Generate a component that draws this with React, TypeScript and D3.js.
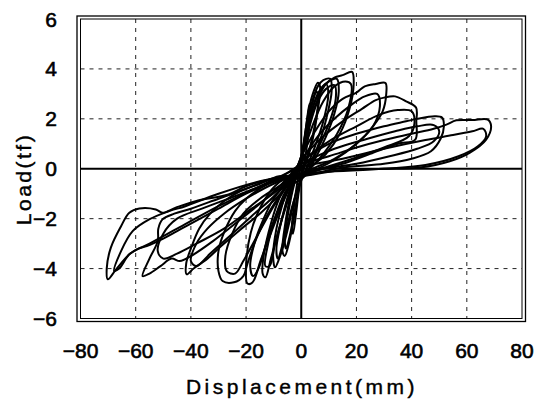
import React from "react";
import * as d3 from "d3";

type Pt = [number, number];

// tick values
const xTicks = [-80, -60, -40, -20, 0, 20, 40, 60, 80];
const yTicks = [-6, -4, -2, 0, 2, 4, 6];

// hysteresis cycles, [displacement mm, load tf]
const cycle1: Pt[] = [[0, 0.1], [1, 1.0], [2, 1.9], [3, 2.6], [3.4, 2.3], [2.4, 1.2], [1, 0.2], [0, -0.3], [-1, -1.0], [-2, -1.9], [-3, -2.6], [-3.4, -2.4], [-2.4, -1.3], [-1, -0.3], [0, 0.1]];
const cycle2: Pt[] = [[0, 0.3], [1.5, 1.5], [3, 2.5], [4.5, 3.1], [6, 3.45], [6.8, 3.3], [5.8, 2.2], [4, 1.1], [2, 0.3], [0, -0.3], [-1.5, -1.2], [-3, -2.2], [-4.5, -3.0], [-6, -3.5], [-6.8, -3.3], [-5.8, -2.2], [-4, -1.1], [-2, -0.2], [0, 0.3]];
const cycle2b: Pt[] = [[0, 0.2], [2, 1.6], [4, 2.6], [5.5, 3.1], [6.2, 2.8], [5, 1.8], [3, 0.8], [0, -0.2], [-2, -1.5], [-4, -2.6], [-5.5, -3.2], [-6, -2.8], [-4.6, -1.7], [-2.5, -0.6], [0, 0.2]];
const cycle3: Pt[] = [[0, 0.4], [2, 1.7], [4, 2.7], [6, 3.3], [8, 3.55], [10.5, 3.6], [11, 3.1], [9.5, 2.2], [7, 1.2], [4, 0.4], [0, -0.4], [-2, -1.0], [-4, -2.0], [-6, -2.9], [-8, -3.6], [-9.5, -3.95], [-10.2, -3.5], [-9, -2.4], [-6.5, -1.3], [-3.5, -0.4], [0, 0.4]];
const cycle3b: Pt[] = [[0, 0.3], [3, 2.0], [6, 3.0], [9, 3.4], [9.8, 3.0], [8, 1.9], [5, 0.9], [1, -0.2], [-3, -1.4], [-6, -2.7], [-8.5, -3.6], [-9, -3.2], [-7, -2.0], [-4, -0.8], [0, 0.3]];
const cycle4: Pt[] = [[0, 0.5], [2.5, 1.7], [5, 2.7], [7.5, 3.25], [10, 3.5], [12.9, 3.6], [13.6, 3.1], [12, 2.2], [9, 1.3], [5, 0.4], [1, -0.3], [-4, -0.4], [-8, -1.2], [-11, -2.2], [-13.5, -3.4], [-14, -4.2], [-13, -4.35], [-11, -3.6], [-8.5, -2.6], [-5.5, -1.5], [-2.5, -0.5], [0, 0.5]];
const cycle4b: Pt[] = [[0, 0.4], [3, 1.7], [6, 2.7], [9, 3.2], [12, 3.35], [12.5, 2.8], [10, 1.8], [6, 0.8], [1, -0.3], [-5, -0.8], [-9, -1.8], [-12, -3.0], [-13, -3.9], [-11.5, -3.9], [-9.5, -3.0], [-6.5, -1.8], [-3, -0.6], [0, 0.4]];
const cycle5: Pt[] = [[0, 0.5], [3, 1.8], [6, 2.8], [9, 3.4], [12, 3.65], [15, 3.75], [18.4, 3.88], [19, 3.4], [17.5, 2.4], [14, 1.4], [9, 0.6], [4, 0.1], [0, -0.4], [-4, -0.3], [-9.6, -0.7], [-14.6, -1.5], [-18.3, -2.56], [-20, -3.9], [-19.5, -4.6], [-17.7, -4.56], [-14.6, -3.63], [-10.9, -2.56], [-7.2, -1.5], [-3.5, -0.56], [0, 0.5]];
const cycle5b: Pt[] = [[0, 0.4], [4, 1.7], [8, 2.7], [12, 3.3], [16, 3.5], [18, 3.4], [17, 2.4], [13, 1.4], [8, 0.6], [3, 0.0], [0, -0.3], [-5, -0.6], [-10, -1.2], [-14, -2.1], [-17, -3.0], [-18.5, -3.9], [-17.5, -4.3], [-15.5, -4.0], [-13, -3.1], [-10, -2.1], [-6, -1.1], [-2, -0.2], [0, 0.4]];
const cycle6: Pt[] = [[0, 0.5], [5, 1.5], [10, 2.3], [15, 2.8], [20, 3.05], [23, 3.3], [27, 3.4], [30.5, 3.44], [30.8, 3.0], [29.5, 2.3], [26, 1.7], [20, 1.0], [12, 0.35], [5, -0.05], [0, -0.3], [-8, -0.4], [-15, -0.8], [-20, -1.2], [-24, -1.7], [-28, -2.56], [-30, -3.3], [-30, -4.1], [-28.5, -4.5], [-24.4, -4.55], [-21, -4.3], [-19.5, -3.8], [-17, -3.0], [-13, -2.0], [-8, -1.1], [-3, -0.3], [0, 0.5]];
const cycle6b: Pt[] = [[0, 0.3], [6, 1.3], [12, 2.0], [18, 2.55], [23, 2.9], [27.5, 3.0], [28.5, 2.5], [26, 1.7], [20, 1.0], [12, 0.4], [4, 0], [0, -0.2], [-8, -0.7], [-15, -1.2], [-21, -1.8], [-25, -2.6], [-27.5, -3.5], [-27, -4.1], [-24, -4.2], [-21, -3.7], [-16, -2.7], [-10, -1.5], [-4, -0.5], [0, 0.3]];
const cycle7: Pt[] = [[0, 0.4], [8, 1.3], [15, 1.9], [22, 2.4], [27, 2.75], [30, 2.85], [34, 2.9], [38, 2.7], [41.6, 2.45], [41.7, 1.9], [41.3, 1.17], [35, 1.0], [25, 0.6], [15, 0.2], [5, -0.1], [0, -0.3], [-8, -0.3], [-15, -0.6], [-22, -0.9], [-28, -1.3], [-33, -1.8], [-37, -2.4], [-40, -3.2], [-41.7, -3.8], [-41.5, -4.23], [-39, -4.0], [-34, -3.6], [-29, -3.1], [-22, -2.43], [-14.6, -1.76], [-7.2, -0.96], [-2, -0.2], [0, 0.4]];
const cycle7b: Pt[] = [[0, 0.3], [10, 1.1], [20, 1.7], [28, 2.15], [35, 2.35], [40, 2.3], [41, 1.8], [39, 1.3], [30, 0.85], [20, 0.45], [10, 0.1], [0, -0.2], [-10, -0.6], [-20, -1.2], [-28, -1.8], [-34, -2.4], [-38, -3.0], [-40, -3.7], [-38, -3.9], [-33, -3.4], [-26, -2.7], [-18, -1.9], [-9, -1.0], [0, 0.3]];
const cycle8: Pt[] = [[0, 0.3], [10, 1.0], [20, 1.4], [30, 1.7], [38, 1.9], [42, 2.0], [48.4, 2.1], [51, 2.05], [51.7, 1.7], [50.5, 1.2], [47, 0.7], [40, 0.4], [30, 0.2], [15, 0.05], [0, -0.3], [-10, -0.4], [-20, -0.8], [-30, -1.2], [-40, -1.6], [-46, -1.8], [-50.3, -2.03], [-51.8, -2.4], [-52, -2.9], [-55, -3.6], [-57.5, -4.3], [-55, -4.2], [-51, -3.9], [-47, -3.6], [-44, -3.7], [-40, -3.5], [-32, -2.9], [-24, -2.2], [-15, -1.4], [-7, -0.6], [0, 0.3]];
const cycle8b: Pt[] = [[0, 0.2], [12, 0.8], [24, 1.2], [34, 1.5], [42, 1.7], [48, 1.75], [50, 1.5], [48, 1.1], [42, 0.8], [32, 0.5], [20, 0.2], [8, 0], [0, -0.2], [-12, -0.6], [-24, -1.1], [-36, -1.6], [-45, -2.0], [-50, -2.6], [-52, -3.3], [-50, -3.6], [-45, -3.4], [-38, -3.0], [-28, -2.4], [-18, -1.6], [-8, -0.8], [0, 0.2]];
const cycle9: Pt[] = [[0, 0.2], [10, 0.5], [20, 0.85], [30, 1.15], [40, 1.4], [48, 1.6], [52.6, 1.77], [56.2, 1.94], [62, 1.95], [67.6, 1.97], [68.8, 1.7], [67, 1.17], [61, 0.64], [53.8, 0.3], [43, 0.05], [30, 0.0], [15, -0.05], [0, -0.3], [-10, -0.4], [-20, -0.7], [-26.4, -1.03], [-38.3, -1.3], [-45.5, -1.56], [-50.3, -1.76], [-52.7, -1.63], [-58.7, -1.59], [-62.3, -1.76], [-65.3, -2.3], [-69, -3.16], [-70.5, -4.0], [-70.1, -4.43], [-67.1, -4.03], [-62.3, -3.43], [-59, -3.2], [-56, -3.1], [-50, -2.8], [-45, -2.5], [-40, -2.2], [-30, -1.6], [-20, -1.0], [-10, -0.5], [0, 0.2]];
const cycle9b: Pt[] = [[0, 0.1], [15, 0.4], [30, 0.8], [45, 1.15], [55, 1.35], [62, 1.5], [66, 1.6], [67, 1.3], [64, 0.9], [57, 0.5], [45, 0.15], [30, 0.0], [0, -0.2], [-15, -0.5], [-30, -1.0], [-42, -1.5], [-47.9, -1.7], [-55.1, -2.03], [-61.1, -2.5], [-65.3, -3.3], [-67.8, -4.1], [-66, -4.0], [-62, -3.4], [-55, -3.0], [-45, -2.4], [-30, -1.5], [-15, -0.7], [0, 0.1]];

const cycles = [cycle1, cycle2, cycle2b, cycle3, cycle3b, cycle4, cycle4b, cycle5, cycle5b, cycle6, cycle6b, cycle7, cycle7b, cycle8, cycle8b, cycle9, cycle9b];

const W = 539;
const H = 402;
const plot = { left: 80.5, right: 522, top: 19, bottom: 318.5 };

const App = () => {
  const x = d3.scaleLinear().domain([-80, 80]).range([plot.left, plot.right]);
  const y = d3.scaleLinear().domain([-6, 6]).range([plot.bottom, plot.top]);
  const line = d3
    .line<Pt>()
    .x((d) => x(d[0]))
    .y((d) => y(d[1]))
    .curve(d3.curveCatmullRom.alpha(0.5));

  const font = "'Liberation Sans', Arial, sans-serif";
  const minus = (v: number) => (v < 0 ? "\u2212" + Math.abs(v) : String(v));

  return (
    <svg width={W} height={H} style={{ position: "absolute", left: 0, top: 0, background: "#fff" }}>
      {/* grid */}
      {xTicks.slice(1, -1).filter((t) => t !== 0).map((t) => (
        <line key={"gx" + t} x1={x(t)} x2={x(t)} y1={plot.top} y2={plot.bottom} stroke="#222" strokeWidth={1} strokeDasharray="4,5" />
      ))}
      {yTicks.slice(1, -1).filter((t) => t !== 0).map((t) => (
        <line key={"gy" + t} x1={plot.left} x2={plot.right} y1={y(t)} y2={y(t)} stroke="#222" strokeWidth={1} strokeDasharray="4,5" />
      ))}
      {/* zero axes */}
      <line x1={x(0)} x2={x(0)} y1={plot.top} y2={plot.bottom} stroke="#000" strokeWidth={2} />
      <line x1={plot.left} x2={plot.right} y1={y(0)} y2={y(0)} stroke="#000" strokeWidth={2} />

      {/* loops */}
      <g fill="none" stroke="#000" strokeWidth={2} strokeLinejoin="round">
        {cycles.map((c, i) => (
          <path key={i} d={line(c) || ""} />
        ))}
      </g>

      {/* double frame */}
      <rect x={plot.left - 3.5} y={plot.top - 3} width={plot.right - plot.left + 7} height={plot.bottom - plot.top + 6} fill="none" stroke="#000" strokeWidth={1.3} />
      <rect x={plot.left} y={plot.top} width={plot.right - plot.left} height={plot.bottom - plot.top} fill="none" stroke="#000" strokeWidth={1} />

      {/* tick labels */}
      <g fontFamily={font} fontSize={21} fill="#000" stroke="#000" strokeWidth={0.6}>
        {yTicks.map((t) => (
          <text key={"ty" + t} x={57} y={y(t)} dy="0.36em" textAnchor="end">
            {minus(t)}
          </text>
        ))}
        {xTicks.map((t) => (
          <text key={"tx" + t} x={x(t)} y={358} textAnchor="middle">
            {minus(t)}
          </text>
        ))}
        <text x={302} y={394} textAnchor="middle" letterSpacing={3.5} strokeWidth={0.4}>
          Displacement(mm)
        </text>
        <text transform="translate(31,179) rotate(-90)" textAnchor="middle" letterSpacing={2.5} strokeWidth={0.4}>
          Load(tf)
        </text>
      </g>
    </svg>
  );
};

export default App;
